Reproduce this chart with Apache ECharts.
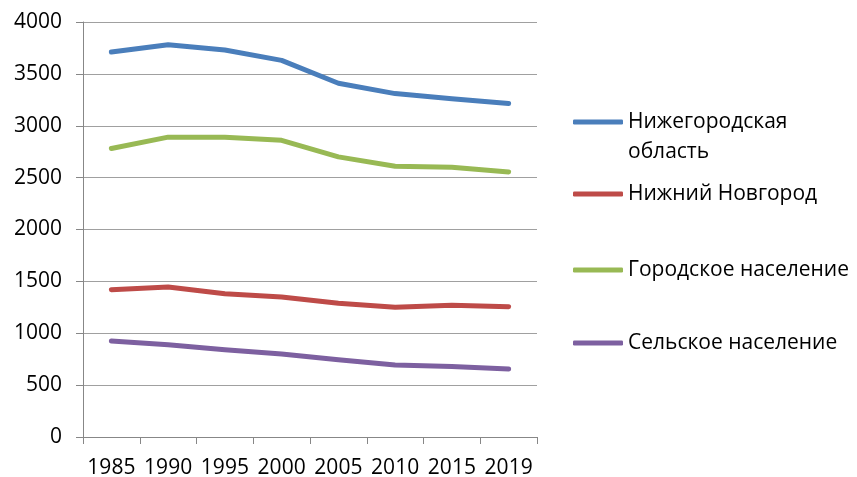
<!DOCTYPE html>
<html><head><meta charset="utf-8">
<script src="https://cdn.jsdelivr.net/npm/echarts@6/dist/echarts.min.js"></script>
<style>html,body{margin:0;padding:0;background:#fff}#c{width:857px;height:477px}</style>
</head><body><div id="c"></div>
<script>
const years = ['1985','1990','1995','2000','2005','2010','2015','2019'];
const seriesNames = ['Нижегородская область','Нижний Новгород','Городское население','Сельское население'];
const oblast = [3710,3780,3730,3630,3410,3310,3260,3215];
const nnovgorod = [1420,1445,1380,1350,1290,1250,1270,1255];
const urban = [2780,2890,2890,2860,2700,2610,2600,2555];
const rural = [925,890,840,800,745,695,680,655];
const yTicks = [0,500,1000,1500,2000,2500,3000,3500,4000];
const colors = ['#4A7EBB','#BE4B48','#98B954','#7D60A0'];

const FONT = 'Open Sans';
const chart = echarts.init(document.getElementById('c'));
const values = [oblast, nnovgorod, urban, rural];
const legendTops = [77, 179, 255, 328];
const legends = seriesNames.map((n, i) => ({
  data: [n], left: 573, top: legendTops[i], padding: 0,
  orient: 'vertical', icon: 'roundRect', itemWidth: 50, itemHeight: 5, itemGap: 0,
  selectedMode: false,
  formatter: name => name === 'Нижегородская область' ? ' \nНижегородская\nобласть' : name,
  textStyle: {fontFamily: FONT, fontSize: 21, color: '#000', lineHeight: 30}
}));
chart.setOption({
  animation: false,
  color: colors,
  textStyle: {fontFamily: FONT},
  grid: {left: 83, right: 320, top: 22, bottom: 40, outerBoundsMode: 'none', containLabel: false},
  legend: legends,
  xAxis: {
    type: 'category', data: years, boundaryGap: true,
    axisLine: {lineStyle: {color: '#878787', width: 1}},
    axisTick: {show: true, length: 7, interval: 0, lineStyle: {color: '#878787'}},
    axisLabel: {color: '#000', fontSize: 21, fontFamily: FONT, margin: 21, interval: 0}
  },
  yAxis: {
    type: 'value', min: yTicks[0], max: yTicks[yTicks.length-1], interval: yTicks[1]-yTicks[0],
    axisLine: {show: true, lineStyle: {color: '#878787', width: 1}},
    axisTick: {show: true, length: 7, lineStyle: {color: '#878787'}},
    axisLabel: {color: '#000', fontSize: 21, fontFamily: FONT, margin: 21, formatter: v => String(v)},
    splitLine: {lineStyle: {color: '#A0A0A0', width: 1}}
  },
  series: seriesNames.map((n, i) => ({
    name: n, type: 'line', data: values[i], symbol: 'none',
    lineStyle: {width: 5, color: colors[i], cap: 'round', join: 'round'},
    itemStyle: {color: colors[i]}
  }))
});
</script></body></html>
